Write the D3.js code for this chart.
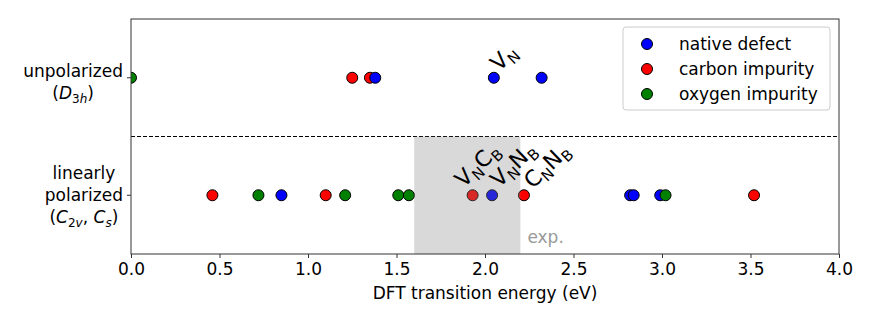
<!DOCTYPE html>
<html><head><meta charset="utf-8">
<script src="https://cdn.jsdelivr.net/npm/d3@7"></script>
<style>body{margin:0;background:#fff}text{font-family:"DejaVu Sans",sans-serif}</style>
</head><body><svg id="c" width="872" height="317"></svg>
<script>
// ---- data ----
const nativeUnpol = [1.38, 2.05, 2.32];
const carbonUnpol = [1.25, 1.35];
const oxygenUnpol = [0.0];
const nativePol = [0.85, 2.04, 2.82, 2.84, 2.99];
const carbonPol = [0.46, 1.10, 1.93, 2.22, 3.52];
const oxygenPol = [0.72, 1.21, 1.51, 1.57, 3.02];
const xTicks = [0, 0.5, 1, 1.5, 2, 2.5, 3, 3.5, 4];
const expRange = [1.6, 2.2];
const seriesNames = ["native defect", "carbon impurity", "oxygen impurity"];
const seriesColors = ["#0000ff", "#ff0000", "#008000"];
// annotation labels: [main1, sub1, main2, sub2], position (x,y data)
const annotations = [
  {parts: ["V", "N"], x: 2.08, y: 1.05},
  {parts: ["V", "N", "C", "B"], x: 1.88, y: 0.06},
  {parts: ["V", "N", "N", "B"], x: 2.08, y: 0.06},
  {parts: ["C", "N", "N", "B"], x: 2.27, y: 0.05}
];

const svg = d3.select("#c");
const L = 131, R = 839, T = 19, B = 254;
const FS = 17;
const x = d3.scaleLinear().domain([0, 4]).range([L, R]);
const y = d3.scaleLinear().domain([-0.5, 1.5]).range([B, T]);

svg.append("defs").append("clipPath").attr("id", "clip")
  .append("rect").attr("x", L).attr("y", T).attr("width", R - L).attr("height", B - T);

const plot = svg.append("g").attr("clip-path", "url(#clip)");

// dashed separator
plot.append("line").attr("x1", L).attr("x2", R).attr("y1", y(0.5)).attr("y2", y(0.5))
  .attr("stroke", "#000").attr("stroke-width", 1).attr("stroke-dasharray", "4,2");

function dots(vals, row, color) {
  plot.selectAll(null).data(vals).enter().append("circle")
    .attr("cx", d => x(d)).attr("cy", y(row)).attr("r", 5.5)
    .attr("fill", color).attr("stroke", "#000").attr("stroke-width", 1);
}
dots(carbonUnpol, 1, seriesColors[1]);
dots(nativeUnpol, 1, seriesColors[0]);
dots(oxygenUnpol, 1, seriesColors[2]);
dots(carbonPol, 0, seriesColors[1]);
dots(nativePol, 0, seriesColors[0]);
dots(oxygenPol, 0, seriesColors[2]);

// experimental span
plot.append("rect").attr("x", x(expRange[0])).attr("width", x(expRange[1]) - x(expRange[0]))
  .attr("y", y(0.5)).attr("height", y(-0.5) - y(0.5))
  .attr("fill", "#808080").attr("fill-opacity", 0.3);

svg.append("text").attr("x", x(expRange[1]) + 7).attr("y", 243)
  .attr("font-size", FS).attr("fill", "#999").text("exp.");

// annotations
annotations.forEach(a => {
  const t = svg.append("text").attr("font-size", 22)
    .attr("transform", `translate(${x(a.x)},${y(a.y)}) rotate(-44)`);
  for (let i = 0; i < a.parts.length; i++) {
    if (i % 2 === 0) t.append("tspan").attr("dy", i === 0 ? 0 : -5).text(a.parts[i]);
    else t.append("tspan").attr("font-size", 15).attr("dy", 5).text(a.parts[i]);
  }
});

// axes frame
svg.append("rect").attr("x", L).attr("y", T).attr("width", R - L).attr("height", B - T)
  .attr("fill", "none").attr("stroke", "#333").attr("stroke-width", 1);

// x axis
const xa = svg.append("g").attr("transform", `translate(0,${B})`)
  .call(d3.axisBottom(x).tickValues(xTicks).tickFormat(d3.format(".1f")).tickSizeOuter(0).tickSize(4).tickPadding(5));
xa.select(".domain").remove();
xa.selectAll("text").attr("font-size", FS).attr("font-family", "DejaVu Sans").attr("fill", "#000");
xa.selectAll("line").attr("stroke", "#333");

svg.append("text").attr("x", (L + R) / 2).attr("y", 299).attr("text-anchor", "middle")
  .attr("font-size", FS).text("DFT transition energy (eV)");

// y ticks
[1, 0].forEach(v => svg.append("line").attr("x1", L - 4).attr("x2", L).attr("y1", y(v)).attr("y2", y(v)).attr("stroke", "#333"));

function yLabel(lines, cy) {
  const g = svg.append("g");
  const lh = 22;
  const n = lines.length;
  const texts = lines.map((ln, i) => {
    const t = g.append("text").attr("font-size", FS).attr("text-anchor", "middle")
      .attr("y", cy + (i - (n - 1) / 2) * lh + 6);
    ln.forEach(seg => {
      const ts = t.append("tspan").text(seg.t);
      if (seg.i) ts.attr("font-style", "italic");
      if (seg.s) ts.attr("font-size", 12);
      if (seg.dy) ts.attr("dy", seg.dy);
    });
    return t;
  });
  const w = d3.max(texts, t => t.node().getComputedTextLength());
  texts.forEach(t => t.attr("x", 123 - w / 2));
}
yLabel([[{t: "unpolarized"}], [{t: "("}, {t: "D", i: 1}, {t: "3", s: 1, dy: 4}, {t: "h", i: 1, s: 1}, {t: ")", dy: -4}]], y(1) + 4);
yLabel([[{t: "linearly"}], [{t: "polarized"}],
  [{t: "("}, {t: "C", i: 1}, {t: "2", s: 1, dy: 4}, {t: "v", i: 1, s: 1}, {t: ", ", dy: -4}, {t: "C", i: 1}, {t: "s", i: 1, s: 1, dy: 4}, {t: ")", dy: -4}]], y(0));

// legend
const lg = svg.append("g");
lg.append("rect").attr("x", 623).attr("y", 27).attr("width", 207).attr("height", 83).attr("rx", 3)
  .attr("fill", "#fff").attr("fill-opacity", 0.8).attr("stroke", "#ccc");
seriesNames.forEach((n, i) => {
  const cy = 44 + i * 25;
  lg.append("circle").attr("cx", 647).attr("cy", cy).attr("r", 5.5).attr("fill", seriesColors[i]).attr("stroke", "#000");
  lg.append("text").attr("x", 679).attr("y", cy + 6).attr("font-size", FS).text(n);
});
</script></body></html>
